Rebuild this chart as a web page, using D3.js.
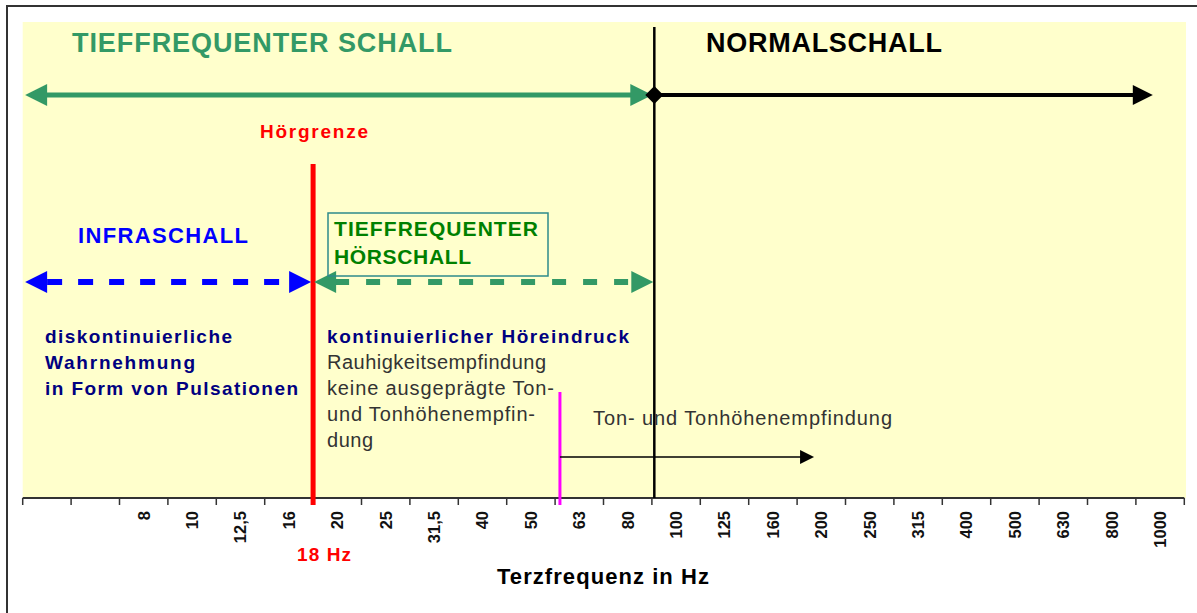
<!DOCTYPE html>
<html>
<head>
<meta charset="utf-8">
<script src="https://cdn.jsdelivr.net/npm/d3@7"></script>
<style>
  body { margin: 0; background: #fff; }
  text { font-family: "Liberation Sans", Arial, sans-serif; }
</style>
</head>
<body>
<div id="chart"></div>
<script>
// Terzfrequenz categories (two empty slots before 8 Hz)
var tickLabels = ["", "", "8", "10", "12,5", "16", "20", "25", "31,5", "40", "50", "63",
    "80", "100", "125", "160", "200", "250", "315", "400", "500", "630", "800", "1000"];

// positions in category units (0 = left edge of the axis)
var schallBounds = [0.05, 13.05, 23.35];   // tieffrequent | normal (about 90 Hz)
var hoerBounds = [0.05, 6, 13.05];         // infraschall | hörschall (18 Hz)
var tonBounds = [11.1, 16.35];             // ton- und tonhöhenempfindung

var leftText = ["diskontinuierliche", "Wahrnehmung", "in Form von Pulsationen"];
var midText = ["Rauhigkeitsempfindung", "keine ausgeprägte Ton-", "und Tonhöhenempfin-", "dung"];

var W = 1197, H = 613;
var plot = {left: 22.7, right: 1184.3, top: 22, bottom: 498};

var svg = d3.select("#chart").append("svg")
    .attr("width", W)
    .attr("height", H);

// Scales
var x = d3.scaleBand()
    .domain(d3.range(tickLabels.length))
    .range([plot.left, plot.right])
    .paddingInner(0).paddingOuter(0);

var pos = d3.scaleLinear()
    .domain([0, tickLabels.length])
    .range([plot.left, plot.right]);

// frame + plot background
svg.append("rect")
    .attr("x", 7).attr("y", 6)
    .attr("width", W + 20).attr("height", H + 20)
    .style("fill", "#fff")
    .style("stroke", "#333")
    .style("stroke-width", 2);

svg.append("rect")
    .attr("x", plot.left).attr("y", plot.top)
    .attr("width", 1186 - plot.left).attr("height", plot.bottom - plot.top)
    .style("fill", "#ffffcc");

// axis
var axis = svg.append("g")
    .attr("transform", "translate(0," + plot.bottom + ")");

axis.append("line")
    .attr("x1", plot.left).attr("x2", plot.right)
    .style("stroke", "#333").style("stroke-width", 2);

axis.selectAll(".tick")
    .data(d3.range(tickLabels.length + 1))
    .enter().append("line")
    .attr("class", "tick")
    .attr("x1", function (d) { return pos(d) })
    .attr("x2", function (d) { return pos(d) })
    .attr("y1", 0).attr("y2", 7)
    .style("stroke", "#333").style("stroke-width", 1.5);

axis.selectAll(".tickLabel")
    .data(tickLabels)
    .enter().append("text")
    .attr("class", "tickLabel")
    .attr("transform", function (d, i) {
        return "translate(" + (x(i) + x.bandwidth() / 2) + ",13) rotate(-90)";
    })
    .attr("dy", "0.36em")
    .attr("text-anchor", "end")
    .style("font-size", "16.5px")
    .style("font-weight", "bold")
    .style("fill", "#111")
    .text(function (d) { return d });

svg.append("text")
    .attr("x", 603).attr("y", 584)
    .attr("text-anchor", "middle")
    .attr("textLength", 212).attr("lengthAdjust", "spacing")
    .style("font-size", "22px").style("font-weight", "bold")
    .text("Terzfrequenz in Hz");

svg.append("text")
    .attr("x", 297).attr("y", 561)
    .attr("textLength", 54).attr("lengthAdjust", "spacing")
    .style("font-size", "19px").style("font-weight", "bold")
    .style("fill", "#ff0000")
    .text("18 Hz");

// helper for filled arrow heads
function head(tipX, y, dir, len, half, color) {
    var b = tipX - dir * len;
    svg.append("path")
        .attr("d", "M" + tipX + "," + y + "L" + b + "," + (y - half) + "L" + b + "," + (y + half) + "Z")
        .style("fill", color);
}

// vertical boundary lines
svg.append("line")
    .attr("x1", pos(schallBounds[1])).attr("x2", pos(schallBounds[1]))
    .attr("y1", 27).attr("y2", plot.bottom)
    .style("stroke", "#000").style("stroke-width", 2.5);

svg.append("line")
    .attr("x1", pos(hoerBounds[1])).attr("x2", pos(hoerBounds[1]))
    .attr("y1", 164).attr("y2", 505)
    .style("stroke", "#ff0000").style("stroke-width", 5);

svg.append("line")
    .attr("x1", pos(tonBounds[0])).attr("x2", pos(tonBounds[0]))
    .attr("y1", 392).attr("y2", 505)
    .style("stroke", "#ff00ff").style("stroke-width", 3);

// top arrows: tieffrequenter schall / normalschall
var yTop = 95;
svg.append("line")
    .attr("x1", pos(schallBounds[0]) + 20).attr("x2", pos(schallBounds[1]) - 18)
    .attr("y1", yTop).attr("y2", yTop)
    .style("stroke", "#339966").style("stroke-width", 5);
head(pos(schallBounds[0]), yTop, -1, 22, 11, "#339966");
head(pos(schallBounds[1]) - 2, yTop, 1, 22, 11, "#339966");

svg.append("line")
    .attr("x1", pos(schallBounds[1])).attr("x2", pos(schallBounds[2]) - 18)
    .attr("y1", yTop).attr("y2", yTop)
    .style("stroke", "#000").style("stroke-width", 4);
head(pos(schallBounds[2]), yTop, 1, 20, 10, "#000");

var cx = pos(schallBounds[1]);
svg.append("path")
    .attr("d", "M" + (cx - 9) + "," + yTop + "L" + cx + "," + (yTop - 9) + "L" + (cx + 9) + "," + yTop + "L" + cx + "," + (yTop + 9) + "Z")
    .style("fill", "#000");

// dashed arrows: infraschall / tieffrequenter hörschall
var yMid = 282;
svg.append("line")
    .attr("x1", pos(hoerBounds[0]) + 22).attr("x2", pos(hoerBounds[1]) - 22)
    .attr("y1", yMid).attr("y2", yMid)
    .style("stroke", "#0000ff").style("stroke-width", 6)
    .style("stroke-dasharray", "15,16");
head(pos(hoerBounds[0]), yMid, -1, 22, 11, "#0000ff");
head(pos(hoerBounds[1]) - 2, yMid, 1, 22, 11, "#0000ff");

svg.append("line")
    .attr("x1", pos(hoerBounds[1]) + 22).attr("x2", pos(hoerBounds[2]) - 22)
    .attr("y1", yMid).attr("y2", yMid)
    .style("stroke", "#339966").style("stroke-width", 6)
    .style("stroke-dasharray", "14,17");
head(pos(hoerBounds[1]) + 1, yMid, -1, 22, 11, "#339966");
head(pos(hoerBounds[2]) - 1, yMid, 1, 22, 11, "#339966");

// thin arrow: ton- und tonhöhenempfindung
var yTon = 457;
svg.append("line")
    .attr("x1", pos(tonBounds[0])).attr("x2", pos(tonBounds[1]) - 12)
    .attr("y1", yTon).attr("y2", yTon)
    .style("stroke", "#000").style("stroke-width", 1.5);
head(pos(tonBounds[1]), yTon, 1, 14, 7, "#000");

// labels
function label(t, lx, ly, size, weight, color, len) {
    var el = svg.append("text")
        .attr("x", lx).attr("y", ly)
        .style("font-size", size + "px")
        .style("font-weight", weight)
        .style("fill", color)
        .text(t);
    if (len) el.attr("textLength", len).attr("lengthAdjust", "spacing");
    return el;
}

label("TIEFFREQUENTER SCHALL", 72, 52, 27, "bold", "#339966", 380);
label("NORMALSCHALL", 706, 52, 27, "bold", "#000", 236);
label("Hörgrenze", 260, 138, 19, "bold", "#ff0000", 108);
label("INFRASCHALL", 78, 243, 22, "bold", "#0000ff", 170);

svg.append("rect")
    .attr("x", 328).attr("y", 213)
    .attr("width", 220).attr("height", 63)
    .style("fill", "none")
    .style("stroke", "#2e8b8b").style("stroke-width", 1.5);
label("TIEFFREQUENTER", 334, 236, 21, "bold", "#008000", 204);
label("HÖRSCHALL", 334, 264, 21, "bold", "#008000", 137);

var leftLens = [187, 150, 253];
leftText.forEach(function (t, i) {
    label(t, 45, 343 + i * 26, 19, "bold", "#000080", leftLens[i]);
});

label("kontinuierlicher Höreindruck", 327, 343, 19, "bold", "#000080", 302);

var midLens = [219, 227, 208, 46];
midText.forEach(function (t, i) {
    label(t, 327, 369 + i * 26, 20, "normal", "#333", midLens[i]);
});

label("Ton- und Tonhöhenempfindung", 593, 425, 20, "normal", "#333", 299);
</script>
</body>
</html>
